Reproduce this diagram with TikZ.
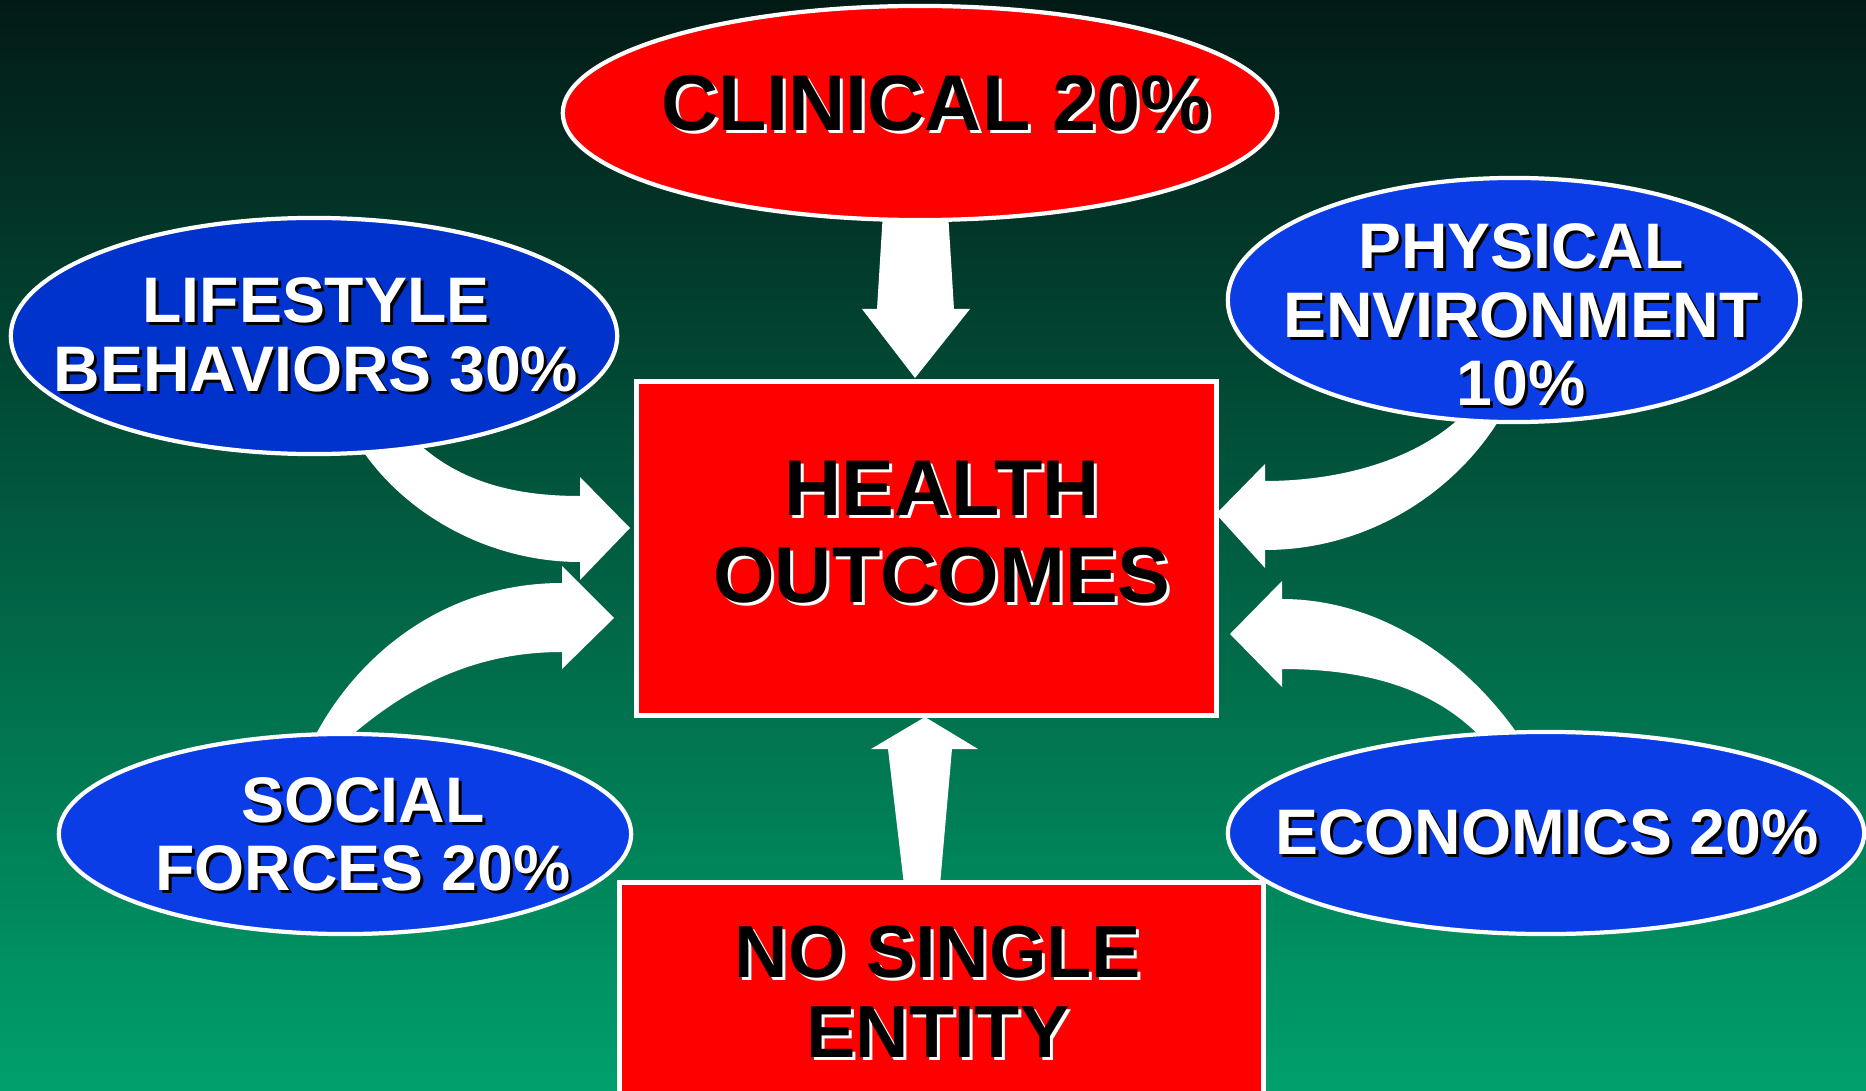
\documentclass[tikz,border=0pt]{standalone}
\usepackage{fontspec}
\setmainfont{Liberation Sans}
\usetikzlibrary{positioning,shapes.geometric}

\definecolor{bgtop}{HTML}{021A16}
\definecolor{bgmid}{HTML}{004D3C}
\definecolor{bgbot}{HTML}{00A06C}
\definecolor{lifeblue}{HTML}{0033CC}
\definecolor{factblue}{HTML}{0A3DE6}
\definecolor{boxred}{HTML}{FF0000}

\tikzset{
  factor/.style={ellipse,draw=white,line width=1.2pt,fill=factblue,inner sep=0pt},
  outcome/.style={rectangle,draw=white,line width=1.4pt,fill=boxred,inner sep=0pt},
  bigarrow/.style={fill=white},
  bluefront/.style={text=white,align=center,font=\fontsize{18.3}{19.4}\selectfont\bfseries},
  blueback/.style={bluefront,text=black,xshift=0.03cm,yshift=-0.03cm},
  redfront/.style={text=black,align=center,font=\fontsize{22.5}{24.8}\selectfont\bfseries},
  redback/.style={redfront,text=white,xshift=0.03cm,yshift=-0.03cm},
}

% text with a cast shadow: [extra]{name}{position}{blue/red}{text}
\newcommand{\castlabel}[5][]{%
  \node[#4back,#1] (#2s) at (#3) {#5};
  \node[#4front,#1] (#2) at (#3) {#5};}

\begin{document}
\begin{tikzpicture}[x=0.01cm,y=-0.01cm]

  \useasboundingbox (0,0) rectangle (1866,1091);
  \clip (0,0) rectangle (1866,1091);
  \fill[top color=bgtop,middle color=bgmid,bottom color=bgbot] (0,0) rectangle (1866,1091);

  % Clinical -> health
  \fill[bigarrow] (883,212) -- (877,309) -- (862,309) -- (915,378)
    -- (970,309) -- (954,309) -- (948,212) -- cycle;

  % Lifestyle -> health
  \fill[bigarrow] (350,430) .. controls (390,505) and (480,562) .. (580,562)
    -- (580,580) -- (630,528) -- (580,477) -- (580,496)
    .. controls (510,496) and (450,480) .. (405,430) -- cycle;

  % Social -> health
  \fill[bigarrow] (308,750) .. controls (350,660) and (440,583) .. (562,583)
    -- (562,566) -- (614,618) -- (562,669) -- (562,652)
    .. controls (470,652) and (400,690) .. (335,750) -- cycle;

  % Physical -> health
  \fill[bigarrow] (1505,410) .. controls (1460,490) and (1370,550) .. (1265,550)
    -- (1265,568) -- (1216,514) -- (1265,464) -- (1265,481)
    .. controls (1340,481) and (1420,460) .. (1468,410) -- cycle;

  % Economics -> health
  \fill[bigarrow] (1525,745) .. controls (1470,660) and (1380,599) .. (1282,599)
    -- (1282,581) -- (1230,634) -- (1282,687) -- (1282,669)
    .. controls (1370,669) and (1440,690) .. (1488,745) -- cycle;

  % No single entity -> health
  \fill[bigarrow] (904,885) -- (888,749) -- (871,749) -- (925,717)
    -- (978,749) -- (952,749) -- (940,885) -- cycle;

  % shapes
  \node[factor,fill=boxred,minimum width=7.14cm,minimum height=2.14cm] (clin) at (920,113) {};
  \node[factor,fill=lifeblue,minimum width=6.06cm,minimum height=2.36cm] (life) at (314,336) {};
  \node[factor,minimum width=5.72cm,minimum height=2.44cm] (phys) at (1514,300) {};
  \node[factor,minimum width=5.72cm,minimum height=2.00cm] (soc) at (345,834) {};
  \node[factor,minimum width=6.36cm,minimum height=2.02cm] (econ) at (1546,833) {};
  \node[outcome,minimum width=5.79cm,minimum height=3.33cm] (health) at (926.5,548.5) {};
  \node[outcome,minimum width=6.43cm,minimum height=2.37cm] (single) at (941.5,1001.5) {};

  % labels
  \castlabel{clintext}{936,103}{red}{CLINICAL 20\%}
  \castlabel{lifetext}{316,335}{blue}{LIFESTYLE\\BEHAVIORS 30\%}
  \castlabel{phystext}{1521,315}{blue}{PHYSICAL\\ENVIRONMENT\\10\%}
  \castlabel{soctext}{363,834}{blue}{SOCIAL\\FORCES 20\%}
  \castlabel{econtext}{1547,832}{blue}{ECONOMICS 20\%}
  \castlabel{healthtext}{942,532}{red}{HEALTH\\OUTCOMES}
  \castlabel[font=\fontsize{21}{22.8}\selectfont\bfseries]{singletext}{938,992}{red}{NO SINGLE\\ENTITY}

\end{tikzpicture}
\end{document}
